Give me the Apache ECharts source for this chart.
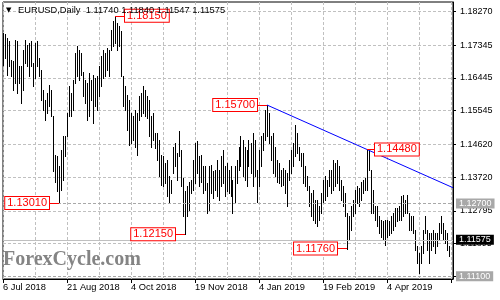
<!DOCTYPE html>
<html><head><meta charset="utf-8">
<script src="https://cdn.jsdelivr.net/npm/echarts@6/dist/echarts.min.js"></script>
<style>html,body{margin:0;padding:0;background:#fff}#c{width:500px;height:300px}</style>
</head><body><div id="c"></div>
<script>
// ---- data ----
const startDate = [2018, 6, 6];              // first bar: 6 Jul 2018
const holidays = ['2018-12-25', '2019-01-01'];
const extraSlots = 2;                          // empty chart shift on the right
const xTickLabels = ['6 Jul 2018', '21 Aug 2018', '4 Oct 2018', '19 Nov 2018', '4 Jan 2019', '19 Feb 2019', '4 Apr 2019'];
const yTickValues = [1.10995, 1.11895, 1.12795, 1.13720, 1.14620, 1.15545, 1.16445, 1.17345, 1.18270];
const lastQuote = ['1.11740', '1.11840', '1.11547', '1.11575'];

const highs = [
1.1768,1.1765,1.1754,1.1745,1.1694,1.1690,1.1749,1.1745,1.1676,1.1676,
1.1722,1.1749,1.1736,1.1740,1.1745,1.1685,1.1740,1.1745,1.1699,1.1667,
1.1612,1.1585,1.1603,1.1626,1.1612,1.1539,1.1434,1.1429,1.1402,1.1447,
1.1484,1.1484,1.1548,1.1621,1.1603,1.1639,1.1713,1.1731,1.1722,1.1713,
1.1662,1.1639,1.1630,1.1658,1.1639,1.1653,1.1644,1.1649,1.1676,1.1704,
1.1722,1.1713,1.1726,1.1722,1.1777,1.1800,1.1815,1.1795,1.1786,1.1772,
1.1649,1.1621,1.1598,1.1585,1.1548,1.1539,1.1557,1.1548,1.1594,1.1603,
1.1621,1.1612,1.1594,1.1585,1.1539,1.1548,1.1493,1.1493,1.1475,1.1434,
1.1429,1.1411,1.1420,1.1374,1.1365,1.1456,1.1466,1.1438,1.1498,1.1447,
1.1370,1.1333,1.1347,1.1360,1.1365,1.1420,1.1466,1.1470,1.1429,1.1434,
1.1402,1.1402,1.1356,1.1402,1.1406,1.1388,1.1392,1.1420,1.1392,1.1429,
1.1447,1.1402,1.1411,1.1392,1.1402,1.1365,1.1402,1.1420,1.1456,1.1484,
1.1475,1.1456,1.1447,1.1475,1.1466,1.1493,1.1475,1.1392,1.1447,1.1484,
1.1493,1.1557,1.1570,1.1548,1.1484,1.1493,1.1456,1.1420,1.1411,1.1392,
1.1397,1.1392,1.1383,1.1420,1.1447,1.1466,1.1516,1.1493,1.1456,1.1438,
1.1438,1.1402,1.1374,1.1347,1.1328,1.1338,1.1310,1.1310,1.1292,1.1328,
1.1365,1.1374,1.1365,1.1392,1.1392,1.1420,1.1411,1.1420,1.1402,1.1365,
1.1347,1.1328,1.1273,1.1264,1.1292,1.1310,1.1338,1.1347,1.1342,1.1360,
1.1365,1.1370,1.1448,1.1447,1.1392,1.1338,1.1292,1.1292,1.1264,1.1255,
1.1251,1.1255,1.1255,1.1251,1.1264,1.1273,1.1287,1.1287,1.1292,1.1319,
1.1324,1.1310,1.1324,1.1273,1.1264,1.1264,1.1228,1.1182,1.1164,1.1182,
1.1228,1.1264,1.1228,1.1219,1.1219,1.1228,1.1219,1.1219,1.1246,1.1264,
1.1246,1.1228,1.1219,1.1184];

const lows = [
1.1681,1.1700,1.1653,1.1676,1.1649,1.1612,1.1630,1.1603,1.1630,1.1575,
1.1612,1.1685,1.1676,1.1649,1.1676,1.1621,1.1644,1.1676,1.1649,1.1585,
1.1557,1.1530,1.1548,1.1566,1.1539,1.1388,1.1360,1.1333,1.1301,1.1338,
1.1365,1.1429,1.1484,1.1539,1.1539,1.1557,1.1630,1.1649,1.1639,1.1653,
1.1594,1.1575,1.1530,1.1539,1.1585,1.1520,1.1566,1.1557,1.1594,1.1621,
1.1644,1.1649,1.1667,1.1649,1.1722,1.1731,1.1740,1.1722,1.1731,1.1649,
1.1566,1.1557,1.1502,1.1461,1.1466,1.1475,1.1456,1.1434,1.1530,1.1539,
1.1548,1.1539,1.1534,1.1484,1.1456,1.1475,1.1452,1.1420,1.1374,1.1351,
1.1347,1.1356,1.1319,1.1305,1.1328,1.1383,1.1402,1.1365,1.1429,1.1347,
1.1264,1.1215,1.1264,1.1283,1.1328,1.1338,1.1356,1.1383,1.1347,1.1360,
1.1328,1.1338,1.1273,1.1283,1.1328,1.1315,1.1338,1.1319,1.1310,1.1347,
1.1356,1.1319,1.1333,1.1328,1.1319,1.1273,1.1301,1.1356,1.1392,1.1402,
1.1374,1.1365,1.1347,1.1402,1.1383,1.1347,1.1374,1.1305,1.1347,1.1402,
1.1447,1.1475,1.1484,1.1466,1.1420,1.1383,1.1374,1.1360,1.1356,1.1347,
1.1351,1.1328,1.1292,1.1365,1.1383,1.1402,1.1429,1.1438,1.1420,1.1402,
1.1356,1.1347,1.1338,1.1292,1.1264,1.1255,1.1246,1.1237,1.1255,1.1273,
1.1301,1.1310,1.1319,1.1347,1.1328,1.1338,1.1347,1.1356,1.1338,1.1310,
1.1292,1.1264,1.1176,1.1200,1.1228,1.1264,1.1273,1.1301,1.1292,1.1310,
1.1328,1.1338,1.1338,1.1392,1.1273,1.1273,1.1255,1.1237,1.1219,1.1209,
1.1200,1.1187,1.1209,1.1214,1.1219,1.1228,1.1237,1.1251,1.1255,1.1255,
1.1264,1.1273,1.1273,1.1228,1.1228,1.1219,1.1173,1.1136,1.1110,1.1136,
1.1164,1.1219,1.1173,1.1136,1.1173,1.1182,1.1164,1.1182,1.1200,1.1219,
1.1200,1.1191,1.1173,1.1155];

// annotated swing points: bar index, price, bar where the red leader ends
const annBars   = [56, 28, 91, 132, 182, 172];
const annPrices = [1.1815, 1.1301, 1.1215, 1.1570, 1.1448, 1.1176];
const annEnds   = [61, 23, 86, 127, 186, 167];
// blue resistance trend line
const trendFrom = [132, 1.1570];
const trendTo   = [225, 1.1343];
// horizontal price levels
const levelLines = [1.12700, 1.11100];
const currentPrice = 1.11575;

// ---- build ----
const categories = [];
(function () {
  const d = new Date(Date.UTC(startDate[0], startDate[1], startDate[2]));
  while (categories.length < highs.length + extraSlots) {
    const dow = d.getUTCDay();
    const iso = d.toISOString().slice(0, 10);
    if (dow !== 0 && dow !== 6 && holidays.indexOf(iso) < 0) categories.push(iso);
    d.setUTCDate(d.getUTCDate() + 1);
  }
})();
const barData = highs.map((h, i) => [i, h, lows[i]]);

const FONT = 'Liberation Sans';
const chart = echarts.init(document.getElementById('c'), null, {renderer: 'canvas'});
chart.setOption({
  animation: false,
  backgroundColor: '#fff',
  grid: {left: 3, right: 47, top: 2, bottom: 21, show: true, borderColor: '#000', borderWidth: 1, backgroundColor: '#fff'},
  xAxis: {
    type: 'category', data: categories, boundaryGap: false,
    axisLine: {show: true, lineStyle: {color: '#000'}},
    axisTick: {show: true, interval: 31, length: 4, lineStyle: {color: '#000'}},
    axisLabel: {interval: 31, align: 'left', margin: 4, fontSize: 9.3, fontFamily: FONT, color: '#000',
      formatter: (v, i) => (i % 32 === 0 && xTickLabels[i / 32]) ? xTickLabels[i / 32] : ''},
    splitLine: {show: true, interval: 15, lineStyle: {color: '#c0c0c0', width: 1, type: [3, 2]}}
  },
  yAxis: {
    type: 'value', position: 'right', min: 1.10924, max: 1.18528, scale: true,
    axisLine: {show: true, lineStyle: {color: '#000'}},
    axisTick: {show: true, customValues: yTickValues, length: 3, lineStyle: {color: '#000'}},
    axisLabel: {customValues: yTickValues, margin: 7, fontSize: 9, fontFamily: FONT, color: '#000',
      formatter: v => Number(v).toFixed(5)},
    splitLine: {show: true, lineStyle: {color: '#c0c0c0', width: 1, type: [3, 2]}}
  },
  series: [
    {
      type: 'custom', data: barData, encode: {x: 0, y: [1, 2]}, z: 3, silent: true,
      renderItem: (params, api) => {
        const i = api.value(0);
        const hi = api.coord([i, api.value(1)]);
        const lo = api.coord([i, api.value(2)]);
        const x = Math.floor(hi[0]) + 0.5;
        return {type: 'line', shape: {x1: x, y1: Math.round(hi[1]), x2: x, y2: Math.round(lo[1]) + 1},
          style: {stroke: '#000', lineWidth: 1}};
      }
    },
    {
      type: 'line', data: [], z: 2, silent: true,
      markLine: {
        silent: true, symbol: 'none', animation: false,
        lineStyle: {color: '#c0c0c0', width: 1},
        label: {show: true, position: 'end', distance: 3, color: '#fff', fontSize: 9, fontFamily: FONT,
          padding: [1, 3, 0, 3], formatter: '{b}'},
        data: levelLines.map(v => ({yAxis: v, name: v.toFixed(5), lineStyle: {color: '#a8a8a8', type: [3, 2]}, label: {backgroundColor: '#a8a8a8'}}))
          .concat([{yAxis: currentPrice, name: currentPrice.toFixed(5), lineStyle: {color: '#c0c0c0', type: 'solid'}, label: {backgroundColor: '#000'}}])
      }
    },
    {
      type: 'line', data: [], z: 4, silent: true,
      markLine: {
        silent: true, symbol: 'none', animation: false,
        lineStyle: {color: '#0000ff', width: 1, type: 'solid'},
        label: {show: false},
        data: [[{coord: trendFrom}, {coord: trendTo}]]
      }
    },
    {
      type: 'line', data: [], z: 5, silent: true,
      markLine: {
        silent: true, symbol: 'none', animation: false,
        lineStyle: {color: '#ff0000', width: 1, type: 'solid'},
        label: {show: true, position: 'end', distance: 0, formatter: '{b}', color: '#ff0000',
          backgroundColor: '#fff', borderColor: '#ff0000', borderWidth: 1, padding: [1, 2, 0, 2],
          fontSize: 11, fontFamily: FONT},
        data: annBars.map((b, k) => [{coord: [b, annPrices[k]], name: annPrices[k].toFixed(5)}, {coord: [annEnds[k], annPrices[k]]}])
      }
    }
  ],
  graphic: [
    {type: 'text', left: 6, top: 7, z: 100, style: {text: '▼', font: '7px "DejaVu Sans"', fill: '#000'}},
    {type: 'text', left: 18, top: 6, z: 100, style: {text: 'EURUSD,Daily  ' + lastQuote.join(' '), font: '9.3px "Liberation Sans"', fill: '#000'}},
    {type: 'text', left: 3, top: 250, z: 100, style: {text: 'ForexCycle.com', font: 'bold 20px "Liberation Serif"', fill: '#848484'}}
  ]
});
</script></body></html>
